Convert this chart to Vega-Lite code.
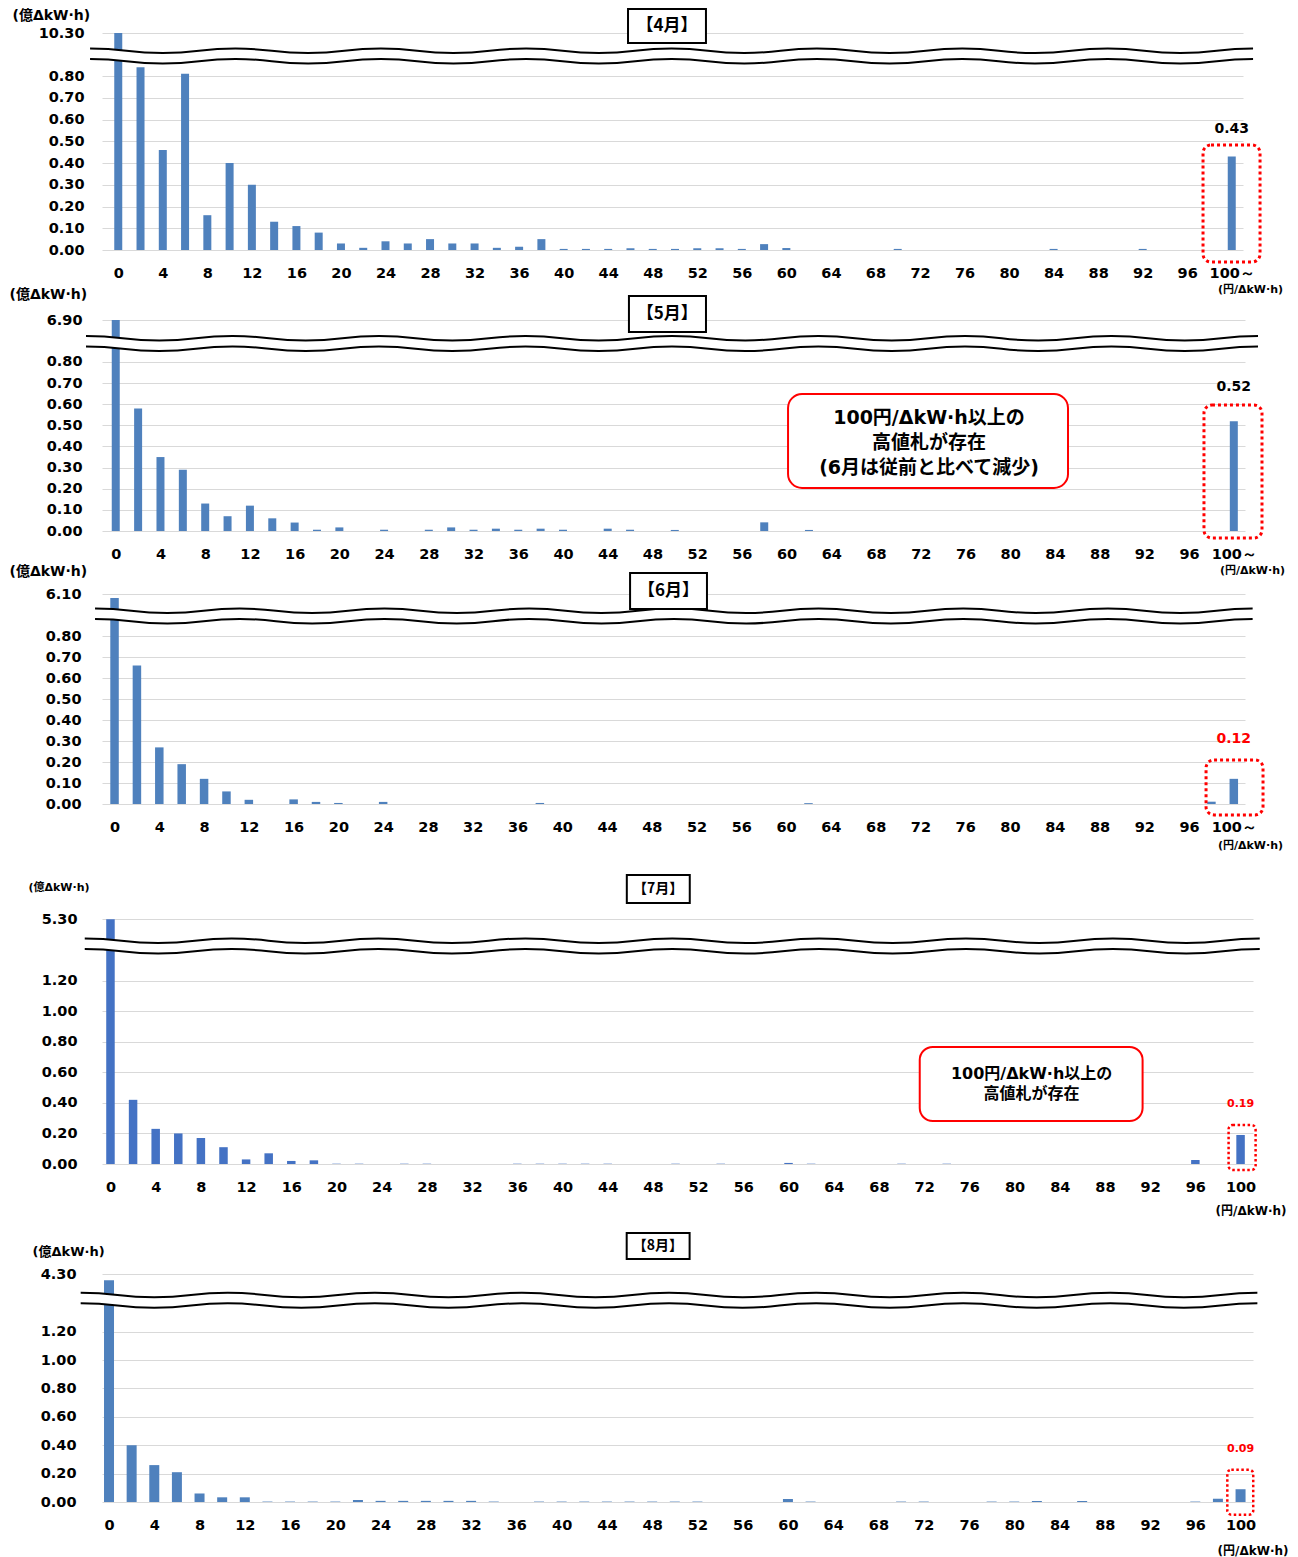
{
  "$schema": "https://vega.github.io/schema/vega-lite/v6.json",
  "background": "white",
  "padding": {"left": 9, "top": 8, "right": 5, "bottom": 5},
  "spacing": 36,
  "bounds": "flush",
  "datasets": {
    "apr": [{"price":0,"volume":10.3},{"price":2,"volume":0.84},{"price":4,"volume":0.46},{"price":6,"volume":0.81},{"price":8,"volume":0.16},{"price":10,"volume":0.4},{"price":12,"volume":0.3},{"price":14,"volume":0.13},{"price":16,"volume":0.11},{"price":18,"volume":0.08},{"price":20,"volume":0.03},{"price":22,"volume":0.01},{"price":24,"volume":0.04},{"price":26,"volume":0.03},{"price":28,"volume":0.05},{"price":30,"volume":0.03},{"price":32,"volume":0.03},{"price":34,"volume":0.01},{"price":36,"volume":0.015},{"price":38,"volume":0.05},{"price":40,"volume":0.005},{"price":42,"volume":0.005},{"price":44,"volume":0.005},{"price":46,"volume":0.008},{"price":48,"volume":0.005},{"price":50,"volume":0.005},{"price":52,"volume":0.008},{"price":54,"volume":0.008},{"price":56,"volume":0.005},{"price":58,"volume":0.027},{"price":60,"volume":0.009},{"price":62,"volume":0},{"price":64,"volume":0},{"price":66,"volume":0},{"price":68,"volume":0},{"price":70,"volume":0.005},{"price":72,"volume":0},{"price":74,"volume":0},{"price":76,"volume":0},{"price":78,"volume":0},{"price":80,"volume":0},{"price":82,"volume":0},{"price":84,"volume":0.005},{"price":86,"volume":0},{"price":88,"volume":0},{"price":90,"volume":0},{"price":92,"volume":0.005},{"price":94,"volume":0},{"price":96,"volume":0},{"price":98,"volume":0},{"price":100,"volume":0.43}],
    "may": [{"price":0,"volume":6.9},{"price":2,"volume":0.58},{"price":4,"volume":0.35},{"price":6,"volume":0.29},{"price":8,"volume":0.13},{"price":10,"volume":0.07},{"price":12,"volume":0.12},{"price":14,"volume":0.06},{"price":16,"volume":0.04},{"price":18,"volume":0.006},{"price":20,"volume":0.017},{"price":22,"volume":0},{"price":24,"volume":0.006},{"price":26,"volume":0},{"price":28,"volume":0.006},{"price":30,"volume":0.017},{"price":32,"volume":0.006},{"price":34,"volume":0.011},{"price":36,"volume":0.006},{"price":38,"volume":0.011},{"price":40,"volume":0.006},{"price":42,"volume":0},{"price":44,"volume":0.011},{"price":46,"volume":0.006},{"price":48,"volume":0},{"price":50,"volume":0.005},{"price":52,"volume":0},{"price":54,"volume":0},{"price":56,"volume":0},{"price":58,"volume":0.041},{"price":60,"volume":0},{"price":62,"volume":0.005},{"price":64,"volume":0},{"price":66,"volume":0},{"price":68,"volume":0},{"price":70,"volume":0},{"price":72,"volume":0},{"price":74,"volume":0},{"price":76,"volume":0},{"price":78,"volume":0},{"price":80,"volume":0},{"price":82,"volume":0},{"price":84,"volume":0},{"price":86,"volume":0},{"price":88,"volume":0},{"price":90,"volume":0},{"price":92,"volume":0},{"price":94,"volume":0},{"price":96,"volume":0},{"price":98,"volume":0},{"price":100,"volume":0.52}],
    "jun": [{"price":0,"volume":6.06},{"price":2,"volume":0.66},{"price":4,"volume":0.27},{"price":6,"volume":0.19},{"price":8,"volume":0.12},{"price":10,"volume":0.06},{"price":12,"volume":0.02},{"price":14,"volume":0},{"price":16,"volume":0.022},{"price":18,"volume":0.01},{"price":20,"volume":0.005},{"price":22,"volume":0},{"price":24,"volume":0.01},{"price":26,"volume":0},{"price":28,"volume":0},{"price":30,"volume":0},{"price":32,"volume":0},{"price":34,"volume":0},{"price":36,"volume":0},{"price":38,"volume":0.005},{"price":40,"volume":0},{"price":42,"volume":0},{"price":44,"volume":0},{"price":46,"volume":0},{"price":48,"volume":0},{"price":50,"volume":0},{"price":52,"volume":0},{"price":54,"volume":0},{"price":56,"volume":0},{"price":58,"volume":0},{"price":60,"volume":0},{"price":62,"volume":0.004},{"price":64,"volume":0},{"price":66,"volume":0},{"price":68,"volume":0},{"price":70,"volume":0},{"price":72,"volume":0},{"price":74,"volume":0},{"price":76,"volume":0},{"price":78,"volume":0},{"price":80,"volume":0},{"price":82,"volume":0},{"price":84,"volume":0},{"price":86,"volume":0},{"price":88,"volume":0},{"price":90,"volume":0},{"price":92,"volume":0},{"price":94,"volume":0},{"price":96,"volume":0},{"price":98,"volume":0.011},{"price":100,"volume":0.12}],
    "jul": [{"price":0,"volume":5.3},{"price":2,"volume":0.42},{"price":4,"volume":0.23},{"price":6,"volume":0.2},{"price":8,"volume":0.17},{"price":10,"volume":0.11},{"price":12,"volume":0.03},{"price":14,"volume":0.07},{"price":16,"volume":0.02},{"price":18,"volume":0.024},{"price":20,"volume":0.002},{"price":22,"volume":0.002},{"price":24,"volume":0},{"price":26,"volume":0.002},{"price":28,"volume":0.002},{"price":30,"volume":0},{"price":32,"volume":0},{"price":34,"volume":0},{"price":36,"volume":0.002},{"price":38,"volume":0.002},{"price":40,"volume":0.002},{"price":42,"volume":0.002},{"price":44,"volume":0.002},{"price":46,"volume":0},{"price":48,"volume":0},{"price":50,"volume":0.002},{"price":52,"volume":0},{"price":54,"volume":0.002},{"price":56,"volume":0},{"price":58,"volume":0},{"price":60,"volume":0.007},{"price":62,"volume":0.002},{"price":64,"volume":0},{"price":66,"volume":0},{"price":68,"volume":0},{"price":70,"volume":0.002},{"price":72,"volume":0},{"price":74,"volume":0.002},{"price":76,"volume":0},{"price":78,"volume":0},{"price":80,"volume":0},{"price":82,"volume":0},{"price":84,"volume":0},{"price":86,"volume":0},{"price":88,"volume":0},{"price":90,"volume":0},{"price":92,"volume":0},{"price":94,"volume":0},{"price":96,"volume":0.026},{"price":98,"volume":0},{"price":100,"volume":0.19}],
    "aug": [{"price":0,"volume":4.24},{"price":2,"volume":0.4},{"price":4,"volume":0.26},{"price":6,"volume":0.21},{"price":8,"volume":0.06},{"price":10,"volume":0.033},{"price":12,"volume":0.033},{"price":14,"volume":0.003},{"price":16,"volume":0.003},{"price":18,"volume":0.003},{"price":20,"volume":0.003},{"price":22,"volume":0.014},{"price":24,"volume":0.008},{"price":26,"volume":0.008},{"price":28,"volume":0.008},{"price":30,"volume":0.008},{"price":32,"volume":0.008},{"price":34,"volume":0.003},{"price":36,"volume":0},{"price":38,"volume":0.003},{"price":40,"volume":0.003},{"price":42,"volume":0.003},{"price":44,"volume":0.003},{"price":46,"volume":0.003},{"price":48,"volume":0.003},{"price":50,"volume":0.003},{"price":52,"volume":0.003},{"price":54,"volume":0},{"price":56,"volume":0},{"price":58,"volume":0},{"price":60,"volume":0.021},{"price":62,"volume":0.003},{"price":64,"volume":0},{"price":66,"volume":0},{"price":68,"volume":0},{"price":70,"volume":0.003},{"price":72,"volume":0.003},{"price":74,"volume":0},{"price":76,"volume":0},{"price":78,"volume":0.003},{"price":80,"volume":0.003},{"price":82,"volume":0.007},{"price":84,"volume":0},{"price":86,"volume":0.007},{"price":88,"volume":0},{"price":90,"volume":0},{"price":92,"volume":0},{"price":94,"volume":0},{"price":96,"volume":0.003},{"price":98,"volume":0.023},{"price":100,"volume":0.09}]
  },
  "vconcat": [
    {
      "width": 1141, "height": 242,
      "layer": [
        {
          "data": {"name": "apr"},
          "mark": {"type": "bar", "orient": "vertical", "size": 8, "color": "#4f81bd"},
          "encoding": {
            "x": {"field": "price", "type": "quantitative",
                  "scale": {"domain": [-1.46, 101.01], "nice": false, "zero": false, "padding": 0},
                  "axis": {"values": [0,4,8,12,16,20,24,28,32,36,40,44,48,52,56,60,64,68,72,76,80,84,88,92,96,100], "tickCount": 60, "format": "d", "labelExpr": "datum.value == 100 ? '100～' : datum.label", "labelPadding": 16, "labelOverlap": false, "grid": false,
                           "title": "(円/ΔkW·h)", "titleX": 1148, "titleY": 39, "titleFontSize": 11, "titleAlign": "center", "titleBaseline": "middle"}},
            "y": {"field": "volume", "type": "quantitative",
                  "scale": {"domain": [0, 0.869, 10.12, 10.55], "range": [242, 53, 43, 0], "nice": false, "zero": false, "padding": 0},
                  "axis": {"values": [0,0.1,0.2,0.3,0.4,0.5,0.6,0.7,0.8,10.3], "tickCount": 30, "format": ".2f", "labelPadding": 18, "labelOverlap": false, "grid": true,
                           "title": "(億ΔkW·h)", "titleAngle": 0, "titleAlign": "left", "titleBaseline": "middle", "titleX": -90, "titleY": 7, "titleFontSize": 14}}
          }
        },
        {
          "data": {"values": [{}]},
          "mark": {"type": "point", "filled": true, "fill": "white", "stroke": null, "opacity": 1, "size": 1352569,
                   "shape": "M-1 -0.0128 C-0.9375 -0.0128 -0.9375 -0.0052 -0.875 -0.0052 C-0.8125 -0.0052 -0.8125 -0.0128 -0.75 -0.0128 C-0.6875 -0.0128 -0.6875 -0.0052 -0.625 -0.0052 C-0.5625 -0.0052 -0.5625 -0.0128 -0.5 -0.0128 C-0.4375 -0.0128 -0.4375 -0.0052 -0.375 -0.0052 C-0.3125 -0.0052 -0.3125 -0.0128 -0.25 -0.0128 C-0.1875 -0.0128 -0.1875 -0.0052 -0.125 -0.0052 C-0.0625 -0.0052 -0.0625 -0.0128 0 -0.0128 C0.0625 -0.0128 0.0625 -0.0052 0.125 -0.0052 C0.1875 -0.0052 0.1875 -0.0128 0.25 -0.0128 C0.3125 -0.0128 0.3125 -0.0052 0.375 -0.0052 C0.4375 -0.0052 0.4375 -0.0128 0.5 -0.0128 C0.5625 -0.0128 0.5625 -0.0052 0.625 -0.0052 C0.6875 -0.0052 0.6875 -0.0128 0.75 -0.0128 C0.8125 -0.0128 0.8125 -0.0052 0.875 -0.0052 C0.9375 -0.0052 0.9375 -0.0128 1 -0.0128 L1 0.0052 C0.9375 0.0052 0.9375 0.0128 0.875 0.0128 C0.8125 0.0128 0.8125 0.0052 0.75 0.0052 C0.6875 0.0052 0.6875 0.0128 0.625 0.0128 C0.5625 0.0128 0.5625 0.0052 0.5 0.0052 C0.4375 0.0052 0.4375 0.0128 0.375 0.0128 C0.3125 0.0128 0.3125 0.0052 0.25 0.0052 C0.1875 0.0052 0.1875 0.0128 0.125 0.0128 C0.0625 0.0128 0.0625 0.0052 0 0.0052 C-0.0625 0.0052 -0.0625 0.0128 -0.125 0.0128 C-0.1875 0.0128 -0.1875 0.0052 -0.25 0.0052 C-0.3125 0.0052 -0.3125 0.0128 -0.375 0.0128 C-0.4375 0.0128 -0.4375 0.0052 -0.5 0.0052 C-0.5625 0.0052 -0.5625 0.0128 -0.625 0.0128 C-0.6875 0.0128 -0.6875 0.0052 -0.75 0.0052 C-0.8125 0.0052 -0.8125 0.0128 -0.875 0.0128 C-0.9375 0.0128 -0.9375 0.0052 -1 0.0052 Z"},
          "encoding": {"x": {"datum": 49.69, "type": "quantitative"}, "y": {"datum": 5.49, "type": "quantitative"}}
        },
        {
          "data": {"values": [{}]},
          "mark": {"type": "point", "filled": false, "stroke": "black", "strokeWidth": 2, "opacity": 1, "size": 1352569,
                   "shape": "M-1 -0.0128 C-0.9375 -0.0128 -0.9375 -0.0052 -0.875 -0.0052 C-0.8125 -0.0052 -0.8125 -0.0128 -0.75 -0.0128 C-0.6875 -0.0128 -0.6875 -0.0052 -0.625 -0.0052 C-0.5625 -0.0052 -0.5625 -0.0128 -0.5 -0.0128 C-0.4375 -0.0128 -0.4375 -0.0052 -0.375 -0.0052 C-0.3125 -0.0052 -0.3125 -0.0128 -0.25 -0.0128 C-0.1875 -0.0128 -0.1875 -0.0052 -0.125 -0.0052 C-0.0625 -0.0052 -0.0625 -0.0128 0 -0.0128 C0.0625 -0.0128 0.0625 -0.0052 0.125 -0.0052 C0.1875 -0.0052 0.1875 -0.0128 0.25 -0.0128 C0.3125 -0.0128 0.3125 -0.0052 0.375 -0.0052 C0.4375 -0.0052 0.4375 -0.0128 0.5 -0.0128 C0.5625 -0.0128 0.5625 -0.0052 0.625 -0.0052 C0.6875 -0.0052 0.6875 -0.0128 0.75 -0.0128 C0.8125 -0.0128 0.8125 -0.0052 0.875 -0.0052 C0.9375 -0.0052 0.9375 -0.0128 1 -0.0128 M-1 0.0052 C-0.9375 0.0052 -0.9375 0.0128 -0.875 0.0128 C-0.8125 0.0128 -0.8125 0.0052 -0.75 0.0052 C-0.6875 0.0052 -0.6875 0.0128 -0.625 0.0128 C-0.5625 0.0128 -0.5625 0.0052 -0.5 0.0052 C-0.4375 0.0052 -0.4375 0.0128 -0.375 0.0128 C-0.3125 0.0128 -0.3125 0.0052 -0.25 0.0052 C-0.1875 0.0052 -0.1875 0.0128 -0.125 0.0128 C-0.0625 0.0128 -0.0625 0.0052 0 0.0052 C0.0625 0.0052 0.0625 0.0128 0.125 0.0128 C0.1875 0.0128 0.1875 0.0052 0.25 0.0052 C0.3125 0.0052 0.3125 0.0128 0.375 0.0128 C0.4375 0.0128 0.4375 0.0052 0.5 0.0052 C0.5625 0.0052 0.5625 0.0128 0.625 0.0128 C0.6875 0.0128 0.6875 0.0052 0.75 0.0052 C0.8125 0.0052 0.8125 0.0128 0.875 0.0128 C0.9375 0.0128 0.9375 0.0052 1 0.0052"},
          "encoding": {"x": {"datum": 49.69, "type": "quantitative"}, "y": {"datum": 5.49, "type": "quantitative"}}
        },
        {
          "data": {"values": [{}]},
          "mark": {"type": "rect", "fill": "white", "stroke": "black", "strokeWidth": 2},
          "encoding": {"x": {"datum": 45.78, "type": "quantitative"}, "x2": {"datum": 52.78}, "y": {"datum": 10.54, "type": "quantitative"}, "y2": {"datum": 10.2}}
        },
        {
          "data": {"values": [{}]},
          "mark": {"type": "text", "text": "【4月】", "font": "Noto Sans CJK JP", "fontSize": 17, "fontWeight": "bold", "color": "black", "align": "center", "baseline": "middle"},
          "encoding": {"x": {"datum": 49.28, "type": "quantitative"}, "y": {"datum": 10.37, "type": "quantitative"}}
        },
        {
          "data": {"values": [{}]},
          "mark": {"type": "rect", "fill": "transparent", "stroke": "#ff0000", "strokeWidth": 3, "strokeDash": [3, 3], "cornerRadius": 8},
          "encoding": {"x": {"datum": 97.42, "type": "quantitative"}, "x2": {"datum": 102.54}, "y": {"datum": 0.483, "type": "quantitative"}, "y2": {"datum": -0.055}}
        },
        {
          "data": {"name": "apr"},
          "transform": [{"filter": "datum.price == 100"}],
          "mark": {"type": "text", "dy": -27.5, "font": "DejaVu Sans", "fontSize": 14, "fontWeight": "bold", "color": "black", "baseline": "middle"},
          "encoding": {"x": {"field": "price", "type": "quantitative"}, "y": {"field": "volume", "type": "quantitative"}, "text": {"field": "volume", "type": "quantitative", "format": ".2f"}}
        }
      ]
    },
    {
      "width": 1143, "height": 245,
      "layer": [
        {
          "data": {"name": "may"},
          "mark": {"type": "bar", "orient": "vertical", "size": 8, "color": "#4f81bd"},
          "encoding": {
            "x": {"field": "price", "type": "quantitative",
                  "scale": {"domain": [-1.23, 101.0], "nice": false, "zero": false, "padding": 0},
                  "axis": {"values": [0,4,8,12,16,20,24,28,32,36,40,44,48,52,56,60,64,68,72,76,80,84,88,92,96,100], "tickCount": 60, "format": "d", "labelExpr": "datum.value == 100 ? '100～' : datum.label", "labelPadding": 16, "labelOverlap": false, "grid": false,
                           "title": "(円/ΔkW·h)", "titleX": 1150, "titleY": 39, "titleFontSize": 11, "titleAlign": "center", "titleBaseline": "middle"}},
            "y": {"field": "volume", "type": "quantitative",
                  "scale": {"domain": [0, 0.8615, 6.72, 7.24], "range": [245, 63, 52, 0], "nice": false, "zero": false, "padding": 0},
                  "axis": {"values": [0,0.1,0.2,0.3,0.4,0.5,0.6,0.7,0.8,6.9], "tickCount": 30, "format": ".2f", "labelPadding": 20, "labelOverlap": false, "grid": true,
                           "title": "(億ΔkW·h)", "titleAngle": 0, "titleAlign": "left", "titleBaseline": "middle", "titleX": -93, "titleY": 8, "titleFontSize": 14}}
          }
        },
        {
          "data": {"values": [{}]},
          "mark": {"type": "point", "filled": true, "fill": "white", "stroke": null, "opacity": 1, "size": 1373584,
                   "shape": "M-1 -0.0128 C-0.9375 -0.0128 -0.9375 -0.0052 -0.875 -0.0052 C-0.8125 -0.0052 -0.8125 -0.0128 -0.75 -0.0128 C-0.6875 -0.0128 -0.6875 -0.0052 -0.625 -0.0052 C-0.5625 -0.0052 -0.5625 -0.0128 -0.5 -0.0128 C-0.4375 -0.0128 -0.4375 -0.0052 -0.375 -0.0052 C-0.3125 -0.0052 -0.3125 -0.0128 -0.25 -0.0128 C-0.1875 -0.0128 -0.1875 -0.0052 -0.125 -0.0052 C-0.0625 -0.0052 -0.0625 -0.0128 0 -0.0128 C0.0625 -0.0128 0.0625 -0.0052 0.125 -0.0052 C0.1875 -0.0052 0.1875 -0.0128 0.25 -0.0128 C0.3125 -0.0128 0.3125 -0.0052 0.375 -0.0052 C0.4375 -0.0052 0.4375 -0.0128 0.5 -0.0128 C0.5625 -0.0128 0.5625 -0.0052 0.625 -0.0052 C0.6875 -0.0052 0.6875 -0.0128 0.75 -0.0128 C0.8125 -0.0128 0.8125 -0.0052 0.875 -0.0052 C0.9375 -0.0052 0.9375 -0.0128 1 -0.0128 L1 0.0052 C0.9375 0.0052 0.9375 0.0128 0.875 0.0128 C0.8125 0.0128 0.8125 0.0052 0.75 0.0052 C0.6875 0.0052 0.6875 0.0128 0.625 0.0128 C0.5625 0.0128 0.5625 0.0052 0.5 0.0052 C0.4375 0.0052 0.4375 0.0128 0.375 0.0128 C0.3125 0.0128 0.3125 0.0052 0.25 0.0052 C0.1875 0.0052 0.1875 0.0128 0.125 0.0128 C0.0625 0.0128 0.0625 0.0052 0 0.0052 C-0.0625 0.0052 -0.0625 0.0128 -0.125 0.0128 C-0.1875 0.0128 -0.1875 0.0052 -0.25 0.0052 C-0.3125 0.0052 -0.3125 0.0128 -0.375 0.0128 C-0.4375 0.0128 -0.4375 0.0052 -0.5 0.0052 C-0.5625 0.0052 -0.5625 0.0128 -0.625 0.0128 C-0.6875 0.0128 -0.6875 0.0052 -0.75 0.0052 C-0.8125 0.0052 -0.8125 0.0128 -0.875 0.0128 C-0.9375 0.0128 -0.9375 0.0052 -1 0.0052 Z"},
          "encoding": {"x": {"datum": 49.75, "type": "quantitative"}, "y": {"datum": 3.79, "type": "quantitative"}}
        },
        {
          "data": {"values": [{}]},
          "mark": {"type": "point", "filled": false, "stroke": "black", "strokeWidth": 2, "opacity": 1, "size": 1373584,
                   "shape": "M-1 -0.0128 C-0.9375 -0.0128 -0.9375 -0.0052 -0.875 -0.0052 C-0.8125 -0.0052 -0.8125 -0.0128 -0.75 -0.0128 C-0.6875 -0.0128 -0.6875 -0.0052 -0.625 -0.0052 C-0.5625 -0.0052 -0.5625 -0.0128 -0.5 -0.0128 C-0.4375 -0.0128 -0.4375 -0.0052 -0.375 -0.0052 C-0.3125 -0.0052 -0.3125 -0.0128 -0.25 -0.0128 C-0.1875 -0.0128 -0.1875 -0.0052 -0.125 -0.0052 C-0.0625 -0.0052 -0.0625 -0.0128 0 -0.0128 C0.0625 -0.0128 0.0625 -0.0052 0.125 -0.0052 C0.1875 -0.0052 0.1875 -0.0128 0.25 -0.0128 C0.3125 -0.0128 0.3125 -0.0052 0.375 -0.0052 C0.4375 -0.0052 0.4375 -0.0128 0.5 -0.0128 C0.5625 -0.0128 0.5625 -0.0052 0.625 -0.0052 C0.6875 -0.0052 0.6875 -0.0128 0.75 -0.0128 C0.8125 -0.0128 0.8125 -0.0052 0.875 -0.0052 C0.9375 -0.0052 0.9375 -0.0128 1 -0.0128 M-1 0.0052 C-0.9375 0.0052 -0.9375 0.0128 -0.875 0.0128 C-0.8125 0.0128 -0.8125 0.0052 -0.75 0.0052 C-0.6875 0.0052 -0.6875 0.0128 -0.625 0.0128 C-0.5625 0.0128 -0.5625 0.0052 -0.5 0.0052 C-0.4375 0.0052 -0.4375 0.0128 -0.375 0.0128 C-0.3125 0.0128 -0.3125 0.0052 -0.25 0.0052 C-0.1875 0.0052 -0.1875 0.0128 -0.125 0.0128 C-0.0625 0.0128 -0.0625 0.0052 0 0.0052 C0.0625 0.0052 0.0625 0.0128 0.125 0.0128 C0.1875 0.0128 0.1875 0.0052 0.25 0.0052 C0.3125 0.0052 0.3125 0.0128 0.375 0.0128 C0.4375 0.0128 0.4375 0.0052 0.5 0.0052 C0.5625 0.0052 0.5625 0.0128 0.625 0.0128 C0.6875 0.0128 0.6875 0.0052 0.75 0.0052 C0.8125 0.0052 0.8125 0.0128 0.875 0.0128 C0.9375 0.0128 0.9375 0.0052 1 0.0052"},
          "encoding": {"x": {"datum": 49.75, "type": "quantitative"}, "y": {"datum": 3.79, "type": "quantitative"}}
        },
        {
          "data": {"values": [{}]},
          "mark": {"type": "rect", "fill": "white", "stroke": "black", "strokeWidth": 2},
          "encoding": {"x": {"datum": 45.9, "type": "quantitative"}, "x2": {"datum": 52.79}, "y": {"datum": 7.14, "type": "quantitative"}, "y2": {"datum": 6.78}}
        },
        {
          "data": {"values": [{}]},
          "mark": {"type": "text", "text": "【5月】", "font": "Noto Sans CJK JP", "fontSize": 17, "fontWeight": "bold", "color": "black", "align": "center", "baseline": "middle"},
          "encoding": {"x": {"datum": 49.33, "type": "quantitative"}, "y": {"datum": 6.96, "type": "quantitative"}}
        },
        {
          "data": {"values": [{}]},
          "mark": {"type": "rect", "fill": "white", "stroke": "#ff0000", "strokeWidth": 2, "cornerRadius": 14},
          "encoding": {"x": {"datum": 60.13, "type": "quantitative"}, "x2": {"datum": 85.17}, "y": {"datum": 0.6485, "type": "quantitative"}, "y2": {"datum": 0.2036}}
        },
        {
          "data": {"values": [{}]},
          "mark": {"type": "text", "text": ["100円/ΔkW·h以上の", "高値札が存在", "(6月は従前と比べて減少)"], "lineHeight": 25, "font": "DejaVu Sans, Noto Sans CJK JP", "fontSize": 19, "fontWeight": "bold", "color": "black", "align": "center", "baseline": "middle"},
          "encoding": {"x": {"datum": 72.74, "type": "quantitative"}, "y": {"datum": 0.535, "type": "quantitative"}}
        },
        {
          "data": {"values": [{}]},
          "mark": {"type": "rect", "fill": "transparent", "stroke": "#ff0000", "strokeWidth": 3, "strokeDash": [3, 3], "cornerRadius": 8},
          "encoding": {"x": {"datum": 97.33, "type": "quantitative"}, "x2": {"datum": 102.52}, "y": {"datum": 0.596, "type": "quantitative"}, "y2": {"datum": -0.033}}
        },
        {
          "data": {"name": "may"},
          "transform": [{"filter": "datum.price == 100"}],
          "mark": {"type": "text", "dy": -34, "font": "DejaVu Sans", "fontSize": 14, "fontWeight": "bold", "color": "black", "baseline": "middle"},
          "encoding": {"x": {"field": "price", "type": "quantitative"}, "y": {"field": "volume", "type": "quantitative"}, "text": {"field": "volume", "type": "quantitative", "format": ".2f"}}
        }
      ]
    },
    {
      "width": 1143, "height": 237,
      "layer": [
        {
          "data": {"name": "jun"},
          "mark": {"type": "bar", "orient": "vertical", "size": 8.5, "color": "#4f81bd"},
          "encoding": {
            "x": {"field": "price", "type": "quantitative",
                  "scale": {"domain": [-1.12, 101.0], "nice": false, "zero": false, "padding": 0},
                  "axis": {"values": [0,4,8,12,16,20,24,28,32,36,40,44,48,52,56,60,64,68,72,76,80,84,88,92,96,100], "tickCount": 60, "format": "d", "labelExpr": "datum.value == 100 ? '100～' : datum.label", "labelPadding": 16, "labelOverlap": false, "grid": false,
                           "title": "(円/ΔkW·h)", "titleX": 1148, "titleY": 41, "titleFontSize": 11, "titleAlign": "center", "titleBaseline": "middle"}},
            "y": {"field": "volume", "type": "quantitative",
                  "scale": {"domain": [0, 0.868, 5.94, 6.37], "range": [237, 55, 43, 0], "nice": false, "zero": false, "padding": 0},
                  "axis": {"values": [0,0.1,0.2,0.3,0.4,0.5,0.6,0.7,0.8,6.1], "tickCount": 30, "format": ".2f", "labelPadding": 21, "labelOverlap": false, "grid": true,
                           "title": "(億ΔkW·h)", "titleAngle": 0, "titleAlign": "left", "titleBaseline": "middle", "titleX": -93, "titleY": 4, "titleFontSize": 14}}
          }
        },
        {
          "data": {"values": [{}]},
          "mark": {"type": "point", "filled": true, "fill": "white", "stroke": null, "opacity": 1, "size": 1340038,
                   "shape": "M-1 -0.0128 C-0.9375 -0.0128 -0.9375 -0.0052 -0.875 -0.0052 C-0.8125 -0.0052 -0.8125 -0.0128 -0.75 -0.0128 C-0.6875 -0.0128 -0.6875 -0.0052 -0.625 -0.0052 C-0.5625 -0.0052 -0.5625 -0.0128 -0.5 -0.0128 C-0.4375 -0.0128 -0.4375 -0.0052 -0.375 -0.0052 C-0.3125 -0.0052 -0.3125 -0.0128 -0.25 -0.0128 C-0.1875 -0.0128 -0.1875 -0.0052 -0.125 -0.0052 C-0.0625 -0.0052 -0.0625 -0.0128 0 -0.0128 C0.0625 -0.0128 0.0625 -0.0052 0.125 -0.0052 C0.1875 -0.0052 0.1875 -0.0128 0.25 -0.0128 C0.3125 -0.0128 0.3125 -0.0052 0.375 -0.0052 C0.4375 -0.0052 0.4375 -0.0128 0.5 -0.0128 C0.5625 -0.0128 0.5625 -0.0052 0.625 -0.0052 C0.6875 -0.0052 0.6875 -0.0128 0.75 -0.0128 C0.8125 -0.0128 0.8125 -0.0052 0.875 -0.0052 C0.9375 -0.0052 0.9375 -0.0128 1 -0.0128 L1 0.0052 C0.9375 0.0052 0.9375 0.0128 0.875 0.0128 C0.8125 0.0128 0.8125 0.0052 0.75 0.0052 C0.6875 0.0052 0.6875 0.0128 0.625 0.0128 C0.5625 0.0128 0.5625 0.0052 0.5 0.0052 C0.4375 0.0052 0.4375 0.0128 0.375 0.0128 C0.3125 0.0128 0.3125 0.0052 0.25 0.0052 C0.1875 0.0052 0.1875 0.0128 0.125 0.0128 C0.0625 0.0128 0.0625 0.0052 0 0.0052 C-0.0625 0.0052 -0.0625 0.0128 -0.125 0.0128 C-0.1875 0.0128 -0.1875 0.0052 -0.25 0.0052 C-0.3125 0.0052 -0.3125 0.0128 -0.375 0.0128 C-0.4375 0.0128 -0.4375 0.0052 -0.5 0.0052 C-0.5625 0.0052 -0.5625 0.0128 -0.625 0.0128 C-0.6875 0.0128 -0.6875 0.0052 -0.75 0.0052 C-0.8125 0.0052 -0.8125 0.0128 -0.875 0.0128 C-0.9375 0.0128 -0.9375 0.0052 -1 0.0052 Z"},
          "encoding": {"x": {"datum": 49.97, "type": "quantitative"}, "y": {"datum": 3.404, "type": "quantitative"}}
        },
        {
          "data": {"values": [{}]},
          "mark": {"type": "point", "filled": false, "stroke": "black", "strokeWidth": 2, "opacity": 1, "size": 1340038,
                   "shape": "M-1 -0.0128 C-0.9375 -0.0128 -0.9375 -0.0052 -0.875 -0.0052 C-0.8125 -0.0052 -0.8125 -0.0128 -0.75 -0.0128 C-0.6875 -0.0128 -0.6875 -0.0052 -0.625 -0.0052 C-0.5625 -0.0052 -0.5625 -0.0128 -0.5 -0.0128 C-0.4375 -0.0128 -0.4375 -0.0052 -0.375 -0.0052 C-0.3125 -0.0052 -0.3125 -0.0128 -0.25 -0.0128 C-0.1875 -0.0128 -0.1875 -0.0052 -0.125 -0.0052 C-0.0625 -0.0052 -0.0625 -0.0128 0 -0.0128 C0.0625 -0.0128 0.0625 -0.0052 0.125 -0.0052 C0.1875 -0.0052 0.1875 -0.0128 0.25 -0.0128 C0.3125 -0.0128 0.3125 -0.0052 0.375 -0.0052 C0.4375 -0.0052 0.4375 -0.0128 0.5 -0.0128 C0.5625 -0.0128 0.5625 -0.0052 0.625 -0.0052 C0.6875 -0.0052 0.6875 -0.0128 0.75 -0.0128 C0.8125 -0.0128 0.8125 -0.0052 0.875 -0.0052 C0.9375 -0.0052 0.9375 -0.0128 1 -0.0128 M-1 0.0052 C-0.9375 0.0052 -0.9375 0.0128 -0.875 0.0128 C-0.8125 0.0128 -0.8125 0.0052 -0.75 0.0052 C-0.6875 0.0052 -0.6875 0.0128 -0.625 0.0128 C-0.5625 0.0128 -0.5625 0.0052 -0.5 0.0052 C-0.4375 0.0052 -0.4375 0.0128 -0.375 0.0128 C-0.3125 0.0128 -0.3125 0.0052 -0.25 0.0052 C-0.1875 0.0052 -0.1875 0.0128 -0.125 0.0128 C-0.0625 0.0128 -0.0625 0.0052 0 0.0052 C0.0625 0.0052 0.0625 0.0128 0.125 0.0128 C0.1875 0.0128 0.1875 0.0052 0.25 0.0052 C0.3125 0.0052 0.3125 0.0128 0.375 0.0128 C0.4375 0.0128 0.4375 0.0052 0.5 0.0052 C0.5625 0.0052 0.5625 0.0128 0.625 0.0128 C0.6875 0.0128 0.6875 0.0052 0.75 0.0052 C0.8125 0.0052 0.8125 0.0128 0.875 0.0128 C0.9375 0.0128 0.9375 0.0052 1 0.0052"},
          "encoding": {"x": {"datum": 49.97, "type": "quantitative"}, "y": {"datum": 3.404, "type": "quantitative"}}
        },
        {
          "data": {"values": [{}]},
          "mark": {"type": "rect", "fill": "white", "stroke": "black", "strokeWidth": 2},
          "encoding": {"x": {"datum": 46.06, "type": "quantitative"}, "x2": {"datum": 52.93}, "y": {"datum": 6.31, "type": "quantitative"}, "y2": {"datum": 5.95}}
        },
        {
          "data": {"values": [{}]},
          "mark": {"type": "text", "text": "【6月】", "font": "Noto Sans CJK JP", "fontSize": 17, "fontWeight": "bold", "color": "black", "align": "center", "baseline": "middle"},
          "encoding": {"x": {"datum": 49.5, "type": "quantitative"}, "y": {"datum": 6.13, "type": "quantitative"}}
        },
        {
          "data": {"values": [{}]},
          "mark": {"type": "rect", "fill": "transparent", "stroke": "#ff0000", "strokeWidth": 3, "strokeDash": [3, 3], "cornerRadius": 8},
          "encoding": {"x": {"datum": 97.52, "type": "quantitative"}, "x2": {"datum": 102.61}, "y": {"datum": 0.21, "type": "quantitative"}, "y2": {"datum": -0.052}}
        },
        {
          "data": {"name": "jun"},
          "transform": [{"filter": "datum.price == 100"}],
          "mark": {"type": "text", "dy": -40, "font": "DejaVu Sans", "fontSize": 14, "fontWeight": "bold", "color": "#ff0000", "baseline": "middle"},
          "encoding": {"x": {"field": "price", "type": "quantitative"}, "y": {"field": "volume", "type": "quantitative"}, "text": {"field": "volume", "type": "quantitative", "format": ".2f"}}
        }
      ]
    },
    {
      "width": 1151, "height": 324,
      "layer": [
        {
          "data": {"name": "jul"},
          "mark": {"type": "bar", "orient": "vertical", "size": 8.5, "color": "#4472c4"},
          "encoding": {
            "x": {"field": "price", "type": "quantitative",
                  "scale": {"domain": [-0.75, 101.1], "nice": false, "zero": false, "padding": 0},
                  "axis": {"values": [0,4,8,12,16,20,24,28,32,36,40,44,48,52,56,60,64,68,72,76,80,84,88,92,96,100], "tickCount": 60, "format": "d", "labelPadding": 16, "labelOverlap": false, "grid": false,
                           "title": "(円/ΔkW·h)", "titleX": 1148.5, "titleY": 46, "titleFontSize": 12, "titleAlign": "center", "titleBaseline": "middle"}},
            "y": {"field": "volume", "type": "quantitative",
                  "scale": {"domain": [0, 1.394, 5.083, 6.093], "range": [324, 111, 101, 0], "nice": false, "zero": false, "padding": 0},
                  "axis": {"values": [0,0.2,0.4,0.6,0.8,1.0,1.2,5.3], "tickCount": 30, "format": ".2f", "labelPadding": 25, "labelOverlap": false, "grid": true,
                           "title": "(億ΔkW·h)", "titleAngle": 0, "titleAlign": "left", "titleBaseline": "middle", "titleX": -74, "titleY": 47, "titleFontSize": 11}}
          }
        },
        {
          "data": {"values": [{}]},
          "mark": {"type": "point", "filled": true, "fill": "white", "stroke": null, "opacity": 1, "size": 1380625,
                   "shape": "M-1 -0.0128 C-0.9375 -0.0128 -0.9375 -0.0052 -0.875 -0.0052 C-0.8125 -0.0052 -0.8125 -0.0128 -0.75 -0.0128 C-0.6875 -0.0128 -0.6875 -0.0052 -0.625 -0.0052 C-0.5625 -0.0052 -0.5625 -0.0128 -0.5 -0.0128 C-0.4375 -0.0128 -0.4375 -0.0052 -0.375 -0.0052 C-0.3125 -0.0052 -0.3125 -0.0128 -0.25 -0.0128 C-0.1875 -0.0128 -0.1875 -0.0052 -0.125 -0.0052 C-0.0625 -0.0052 -0.0625 -0.0128 0 -0.0128 C0.0625 -0.0128 0.0625 -0.0052 0.125 -0.0052 C0.1875 -0.0052 0.1875 -0.0128 0.25 -0.0128 C0.3125 -0.0128 0.3125 -0.0052 0.375 -0.0052 C0.4375 -0.0052 0.4375 -0.0128 0.5 -0.0128 C0.5625 -0.0128 0.5625 -0.0052 0.625 -0.0052 C0.6875 -0.0052 0.6875 -0.0128 0.75 -0.0128 C0.8125 -0.0128 0.8125 -0.0052 0.875 -0.0052 C0.9375 -0.0052 0.9375 -0.0128 1 -0.0128 L1 0.0052 C0.9375 0.0052 0.9375 0.0128 0.875 0.0128 C0.8125 0.0128 0.8125 0.0052 0.75 0.0052 C0.6875 0.0052 0.6875 0.0128 0.625 0.0128 C0.5625 0.0128 0.5625 0.0052 0.5 0.0052 C0.4375 0.0052 0.4375 0.0128 0.375 0.0128 C0.3125 0.0128 0.3125 0.0052 0.25 0.0052 C0.1875 0.0052 0.1875 0.0128 0.125 0.0128 C0.0625 0.0128 0.0625 0.0052 0 0.0052 C-0.0625 0.0052 -0.0625 0.0128 -0.125 0.0128 C-0.1875 0.0128 -0.1875 0.0052 -0.25 0.0052 C-0.3125 0.0052 -0.3125 0.0128 -0.375 0.0128 C-0.4375 0.0128 -0.4375 0.0052 -0.5 0.0052 C-0.5625 0.0052 -0.5625 0.0128 -0.625 0.0128 C-0.6875 0.0128 -0.6875 0.0052 -0.75 0.0052 C-0.8125 0.0052 -0.8125 0.0128 -0.875 0.0128 C-0.9375 0.0128 -0.9375 0.0052 -1 0.0052 Z"},
          "encoding": {"x": {"datum": 49.71, "type": "quantitative"}, "y": {"datum": 3.2385, "type": "quantitative"}}
        },
        {
          "data": {"values": [{}]},
          "mark": {"type": "point", "filled": false, "stroke": "black", "strokeWidth": 2, "opacity": 1, "size": 1380625,
                   "shape": "M-1 -0.0128 C-0.9375 -0.0128 -0.9375 -0.0052 -0.875 -0.0052 C-0.8125 -0.0052 -0.8125 -0.0128 -0.75 -0.0128 C-0.6875 -0.0128 -0.6875 -0.0052 -0.625 -0.0052 C-0.5625 -0.0052 -0.5625 -0.0128 -0.5 -0.0128 C-0.4375 -0.0128 -0.4375 -0.0052 -0.375 -0.0052 C-0.3125 -0.0052 -0.3125 -0.0128 -0.25 -0.0128 C-0.1875 -0.0128 -0.1875 -0.0052 -0.125 -0.0052 C-0.0625 -0.0052 -0.0625 -0.0128 0 -0.0128 C0.0625 -0.0128 0.0625 -0.0052 0.125 -0.0052 C0.1875 -0.0052 0.1875 -0.0128 0.25 -0.0128 C0.3125 -0.0128 0.3125 -0.0052 0.375 -0.0052 C0.4375 -0.0052 0.4375 -0.0128 0.5 -0.0128 C0.5625 -0.0128 0.5625 -0.0052 0.625 -0.0052 C0.6875 -0.0052 0.6875 -0.0128 0.75 -0.0128 C0.8125 -0.0128 0.8125 -0.0052 0.875 -0.0052 C0.9375 -0.0052 0.9375 -0.0128 1 -0.0128 M-1 0.0052 C-0.9375 0.0052 -0.9375 0.0128 -0.875 0.0128 C-0.8125 0.0128 -0.8125 0.0052 -0.75 0.0052 C-0.6875 0.0052 -0.6875 0.0128 -0.625 0.0128 C-0.5625 0.0128 -0.5625 0.0052 -0.5 0.0052 C-0.4375 0.0052 -0.4375 0.0128 -0.375 0.0128 C-0.3125 0.0128 -0.3125 0.0052 -0.25 0.0052 C-0.1875 0.0052 -0.1875 0.0128 -0.125 0.0128 C-0.0625 0.0128 -0.0625 0.0052 0 0.0052 C0.0625 0.0052 0.0625 0.0128 0.125 0.0128 C0.1875 0.0128 0.1875 0.0052 0.25 0.0052 C0.3125 0.0052 0.3125 0.0128 0.375 0.0128 C0.4375 0.0128 0.4375 0.0052 0.5 0.0052 C0.5625 0.0052 0.5625 0.0128 0.625 0.0128 C0.6875 0.0128 0.6875 0.0052 0.75 0.0052 C0.8125 0.0052 0.8125 0.0128 0.875 0.0128 C0.9375 0.0128 0.9375 0.0052 1 0.0052"},
          "encoding": {"x": {"datum": 49.71, "type": "quantitative"}, "y": {"datum": 3.2385, "type": "quantitative"}}
        },
        {
          "data": {"values": [{}]},
          "mark": {"type": "rect", "fill": "white", "stroke": "black", "strokeWidth": 2},
          "encoding": {"x": {"datum": 45.69, "type": "quantitative"}, "x2": {"datum": 51.26}, "y": {"datum": 5.743, "type": "quantitative"}, "y2": {"datum": 5.463}}
        },
        {
          "data": {"values": [{}]},
          "mark": {"type": "text", "text": "【7月】", "font": "Noto Sans CJK JP", "fontSize": 14, "fontWeight": "bold", "color": "black", "align": "center", "baseline": "middle"},
          "encoding": {"x": {"datum": 48.47, "type": "quantitative"}, "y": {"datum": 5.603, "type": "quantitative"}}
        },
        {
          "data": {"values": [{}]},
          "mark": {"type": "rect", "fill": "white", "stroke": "#ff0000", "strokeWidth": 2, "cornerRadius": 13},
          "encoding": {"x": {"datum": 71.61, "type": "quantitative"}, "x2": {"datum": 91.33}, "y": {"datum": 0.766, "type": "quantitative"}, "y2": {"datum": 0.2815}}
        },
        {
          "data": {"values": [{}]},
          "mark": {"type": "text", "text": ["100円/ΔkW·h以上の", "高値札が存在"], "lineHeight": 20, "font": "DejaVu Sans, Noto Sans CJK JP", "fontSize": 16, "fontWeight": "bold", "color": "black", "align": "center", "baseline": "middle"},
          "encoding": {"x": {"datum": 81.51, "type": "quantitative"}, "y": {"datum": 0.589, "type": "quantitative"}}
        },
        {
          "data": {"values": [{}]},
          "mark": {"type": "rect", "fill": "transparent", "stroke": "#ff0000", "strokeWidth": 2.5, "strokeDash": [2.5, 2.5], "cornerRadius": 4},
          "encoding": {"x": {"datum": 98.94, "type": "quantitative"}, "x2": {"datum": 101.33}, "y": {"datum": 0.255, "type": "quantitative"}, "y2": {"datum": -0.039}}
        },
        {
          "data": {"name": "jul"},
          "transform": [{"filter": "datum.price == 100"}],
          "mark": {"type": "text", "dy": -31, "font": "DejaVu Sans", "fontSize": 11, "fontWeight": "bold", "color": "#ff0000", "baseline": "middle"},
          "encoding": {"x": {"field": "price", "type": "quantitative"}, "y": {"field": "volume", "type": "quantitative"}, "text": {"field": "volume", "type": "quantitative", "format": ".2f"}}
        }
      ]
    },
    {
      "width": 1151, "height": 302,
      "layer": [
        {
          "data": {"name": "aug"},
          "mark": {"type": "bar", "orient": "vertical", "size": 10, "color": "#4f81bd"},
          "encoding": {
            "x": {"field": "price", "type": "quantitative",
                  "scale": {"domain": [-0.62, 101.1], "nice": false, "zero": false, "padding": 0},
                  "axis": {"values": [0,4,8,12,16,20,24,28,32,36,40,44,48,52,56,60,64,68,72,76,80,84,88,92,96,100], "tickCount": 60, "format": "d", "labelPadding": 16, "labelOverlap": false, "grid": false,
                           "title": "(円/ΔkW·h)", "titleX": 1150.5, "titleY": 48.5, "titleFontSize": 12, "titleAlign": "center", "titleBaseline": "middle"}},
            "y": {"field": "volume", "type": "quantitative",
                  "scale": {"domain": [0, 1.386, 4.09, 5.043], "range": [302, 105.3, 95.3, 0], "nice": false, "zero": false, "padding": 0},
                  "axis": {"values": [0,0.2,0.4,0.6,0.8,1.0,1.2,4.3], "tickCount": 30, "format": ".2f", "labelPadding": 26, "labelOverlap": false, "grid": true,
                           "title": "(億ΔkW·h)", "titleAngle": 0, "titleAlign": "left", "titleBaseline": "middle", "titleX": -70, "titleY": 51, "titleFontSize": 13}}
          }
        },
        {
          "data": {"values": [{}]},
          "mark": {"type": "point", "filled": true, "fill": "white", "stroke": null, "opacity": 1, "size": 1384623,
                   "shape": "M-1 -0.0128 C-0.9375 -0.0128 -0.9375 -0.0052 -0.875 -0.0052 C-0.8125 -0.0052 -0.8125 -0.0128 -0.75 -0.0128 C-0.6875 -0.0128 -0.6875 -0.0052 -0.625 -0.0052 C-0.5625 -0.0052 -0.5625 -0.0128 -0.5 -0.0128 C-0.4375 -0.0128 -0.4375 -0.0052 -0.375 -0.0052 C-0.3125 -0.0052 -0.3125 -0.0128 -0.25 -0.0128 C-0.1875 -0.0128 -0.1875 -0.0052 -0.125 -0.0052 C-0.0625 -0.0052 -0.0625 -0.0128 0 -0.0128 C0.0625 -0.0128 0.0625 -0.0052 0.125 -0.0052 C0.1875 -0.0052 0.1875 -0.0128 0.25 -0.0128 C0.3125 -0.0128 0.3125 -0.0052 0.375 -0.0052 C0.4375 -0.0052 0.4375 -0.0128 0.5 -0.0128 C0.5625 -0.0128 0.5625 -0.0052 0.625 -0.0052 C0.6875 -0.0052 0.6875 -0.0128 0.75 -0.0128 C0.8125 -0.0128 0.8125 -0.0052 0.875 -0.0052 C0.9375 -0.0052 0.9375 -0.0128 1 -0.0128 L1 0.0052 C0.9375 0.0052 0.9375 0.0128 0.875 0.0128 C0.8125 0.0128 0.8125 0.0052 0.75 0.0052 C0.6875 0.0052 0.6875 0.0128 0.625 0.0128 C0.5625 0.0128 0.5625 0.0052 0.5 0.0052 C0.4375 0.0052 0.4375 0.0128 0.375 0.0128 C0.3125 0.0128 0.3125 0.0052 0.25 0.0052 C0.1875 0.0052 0.1875 0.0128 0.125 0.0128 C0.0625 0.0128 0.0625 0.0052 0 0.0052 C-0.0625 0.0052 -0.0625 0.0128 -0.125 0.0128 C-0.1875 0.0128 -0.1875 0.0052 -0.25 0.0052 C-0.3125 0.0052 -0.3125 0.0128 -0.375 0.0128 C-0.4375 0.0128 -0.4375 0.0052 -0.5 0.0052 C-0.5625 0.0052 -0.5625 0.0128 -0.625 0.0128 C-0.6875 0.0128 -0.6875 0.0052 -0.75 0.0052 C-0.8125 0.0052 -0.8125 0.0128 -0.875 0.0128 C-0.9375 0.0128 -0.9375 0.0052 -1 0.0052 Z"},
          "encoding": {"x": {"datum": 49.49, "type": "quantitative"}, "y": {"datum": 2.738, "type": "quantitative"}}
        },
        {
          "data": {"values": [{}]},
          "mark": {"type": "point", "filled": false, "stroke": "black", "strokeWidth": 2, "opacity": 1, "size": 1384623,
                   "shape": "M-1 -0.0128 C-0.9375 -0.0128 -0.9375 -0.0052 -0.875 -0.0052 C-0.8125 -0.0052 -0.8125 -0.0128 -0.75 -0.0128 C-0.6875 -0.0128 -0.6875 -0.0052 -0.625 -0.0052 C-0.5625 -0.0052 -0.5625 -0.0128 -0.5 -0.0128 C-0.4375 -0.0128 -0.4375 -0.0052 -0.375 -0.0052 C-0.3125 -0.0052 -0.3125 -0.0128 -0.25 -0.0128 C-0.1875 -0.0128 -0.1875 -0.0052 -0.125 -0.0052 C-0.0625 -0.0052 -0.0625 -0.0128 0 -0.0128 C0.0625 -0.0128 0.0625 -0.0052 0.125 -0.0052 C0.1875 -0.0052 0.1875 -0.0128 0.25 -0.0128 C0.3125 -0.0128 0.3125 -0.0052 0.375 -0.0052 C0.4375 -0.0052 0.4375 -0.0128 0.5 -0.0128 C0.5625 -0.0128 0.5625 -0.0052 0.625 -0.0052 C0.6875 -0.0052 0.6875 -0.0128 0.75 -0.0128 C0.8125 -0.0128 0.8125 -0.0052 0.875 -0.0052 C0.9375 -0.0052 0.9375 -0.0128 1 -0.0128 M-1 0.0052 C-0.9375 0.0052 -0.9375 0.0128 -0.875 0.0128 C-0.8125 0.0128 -0.8125 0.0052 -0.75 0.0052 C-0.6875 0.0052 -0.6875 0.0128 -0.625 0.0128 C-0.5625 0.0128 -0.5625 0.0052 -0.5 0.0052 C-0.4375 0.0052 -0.4375 0.0128 -0.375 0.0128 C-0.3125 0.0128 -0.3125 0.0052 -0.25 0.0052 C-0.1875 0.0052 -0.1875 0.0128 -0.125 0.0128 C-0.0625 0.0128 -0.0625 0.0052 0 0.0052 C0.0625 0.0052 0.0625 0.0128 0.125 0.0128 C0.1875 0.0128 0.1875 0.0052 0.25 0.0052 C0.3125 0.0052 0.3125 0.0128 0.375 0.0128 C0.4375 0.0128 0.4375 0.0052 0.5 0.0052 C0.5625 0.0052 0.5625 0.0128 0.625 0.0128 C0.6875 0.0128 0.6875 0.0052 0.75 0.0052 C0.8125 0.0052 0.8125 0.0128 0.875 0.0128 C0.9375 0.0128 0.9375 0.0052 1 0.0052"},
          "encoding": {"x": {"datum": 49.49, "type": "quantitative"}, "y": {"datum": 2.738, "type": "quantitative"}}
        },
        {
          "data": {"values": [{}]},
          "mark": {"type": "rect", "fill": "white", "stroke": "black", "strokeWidth": 2},
          "encoding": {"x": {"datum": 45.75, "type": "quantitative"}, "x2": {"datum": 51.31}, "y": {"datum": 4.713, "type": "quantitative"}, "y2": {"datum": 4.453}}
        },
        {
          "data": {"values": [{}]},
          "mark": {"type": "text", "text": "【8月】", "font": "Noto Sans CJK JP", "fontSize": 14, "fontWeight": "bold", "color": "black", "align": "center", "baseline": "middle"},
          "encoding": {"x": {"datum": 48.5, "type": "quantitative"}, "y": {"datum": 4.583, "type": "quantitative"}}
        },
        {
          "data": {"values": [{}]},
          "mark": {"type": "rect", "fill": "transparent", "stroke": "#ff0000", "strokeWidth": 2.5, "strokeDash": [2.5, 2.5], "cornerRadius": 4},
          "encoding": {"x": {"datum": 98.83, "type": "quantitative"}, "x2": {"datum": 101.12}, "y": {"datum": 0.227, "type": "quantitative"}, "y2": {"datum": -0.089}}
        },
        {
          "data": {"name": "aug"},
          "transform": [{"filter": "datum.price == 100"}],
          "mark": {"type": "text", "dy": -40, "font": "DejaVu Sans", "fontSize": 11, "fontWeight": "bold", "color": "#ff0000", "baseline": "middle"},
          "encoding": {"x": {"field": "price", "type": "quantitative"}, "y": {"field": "volume", "type": "quantitative"}, "text": {"field": "volume", "type": "quantitative", "format": ".2f"}}
        }
      ]
    }
  ],
  "config": {
    "view": {"stroke": null},
    "axis": {
      "labelFont": "DejaVu Sans",
      "labelFontSize": 14.5,
      "labelFontWeight": "bold",
      "labelColor": "#000000",
      "labelFlush": false,
      "labelOverlap": false,
      "titleFont": "DejaVu Sans, Noto Sans CJK JP",
      "titleFontWeight": "bold",
      "titleColor": "#000000",
      "domain": false,
      "ticks": false,
      "tickSize": 0,
      "gridColor": "#d9d9d9",
      "gridWidth": 1
    }
  }
}
